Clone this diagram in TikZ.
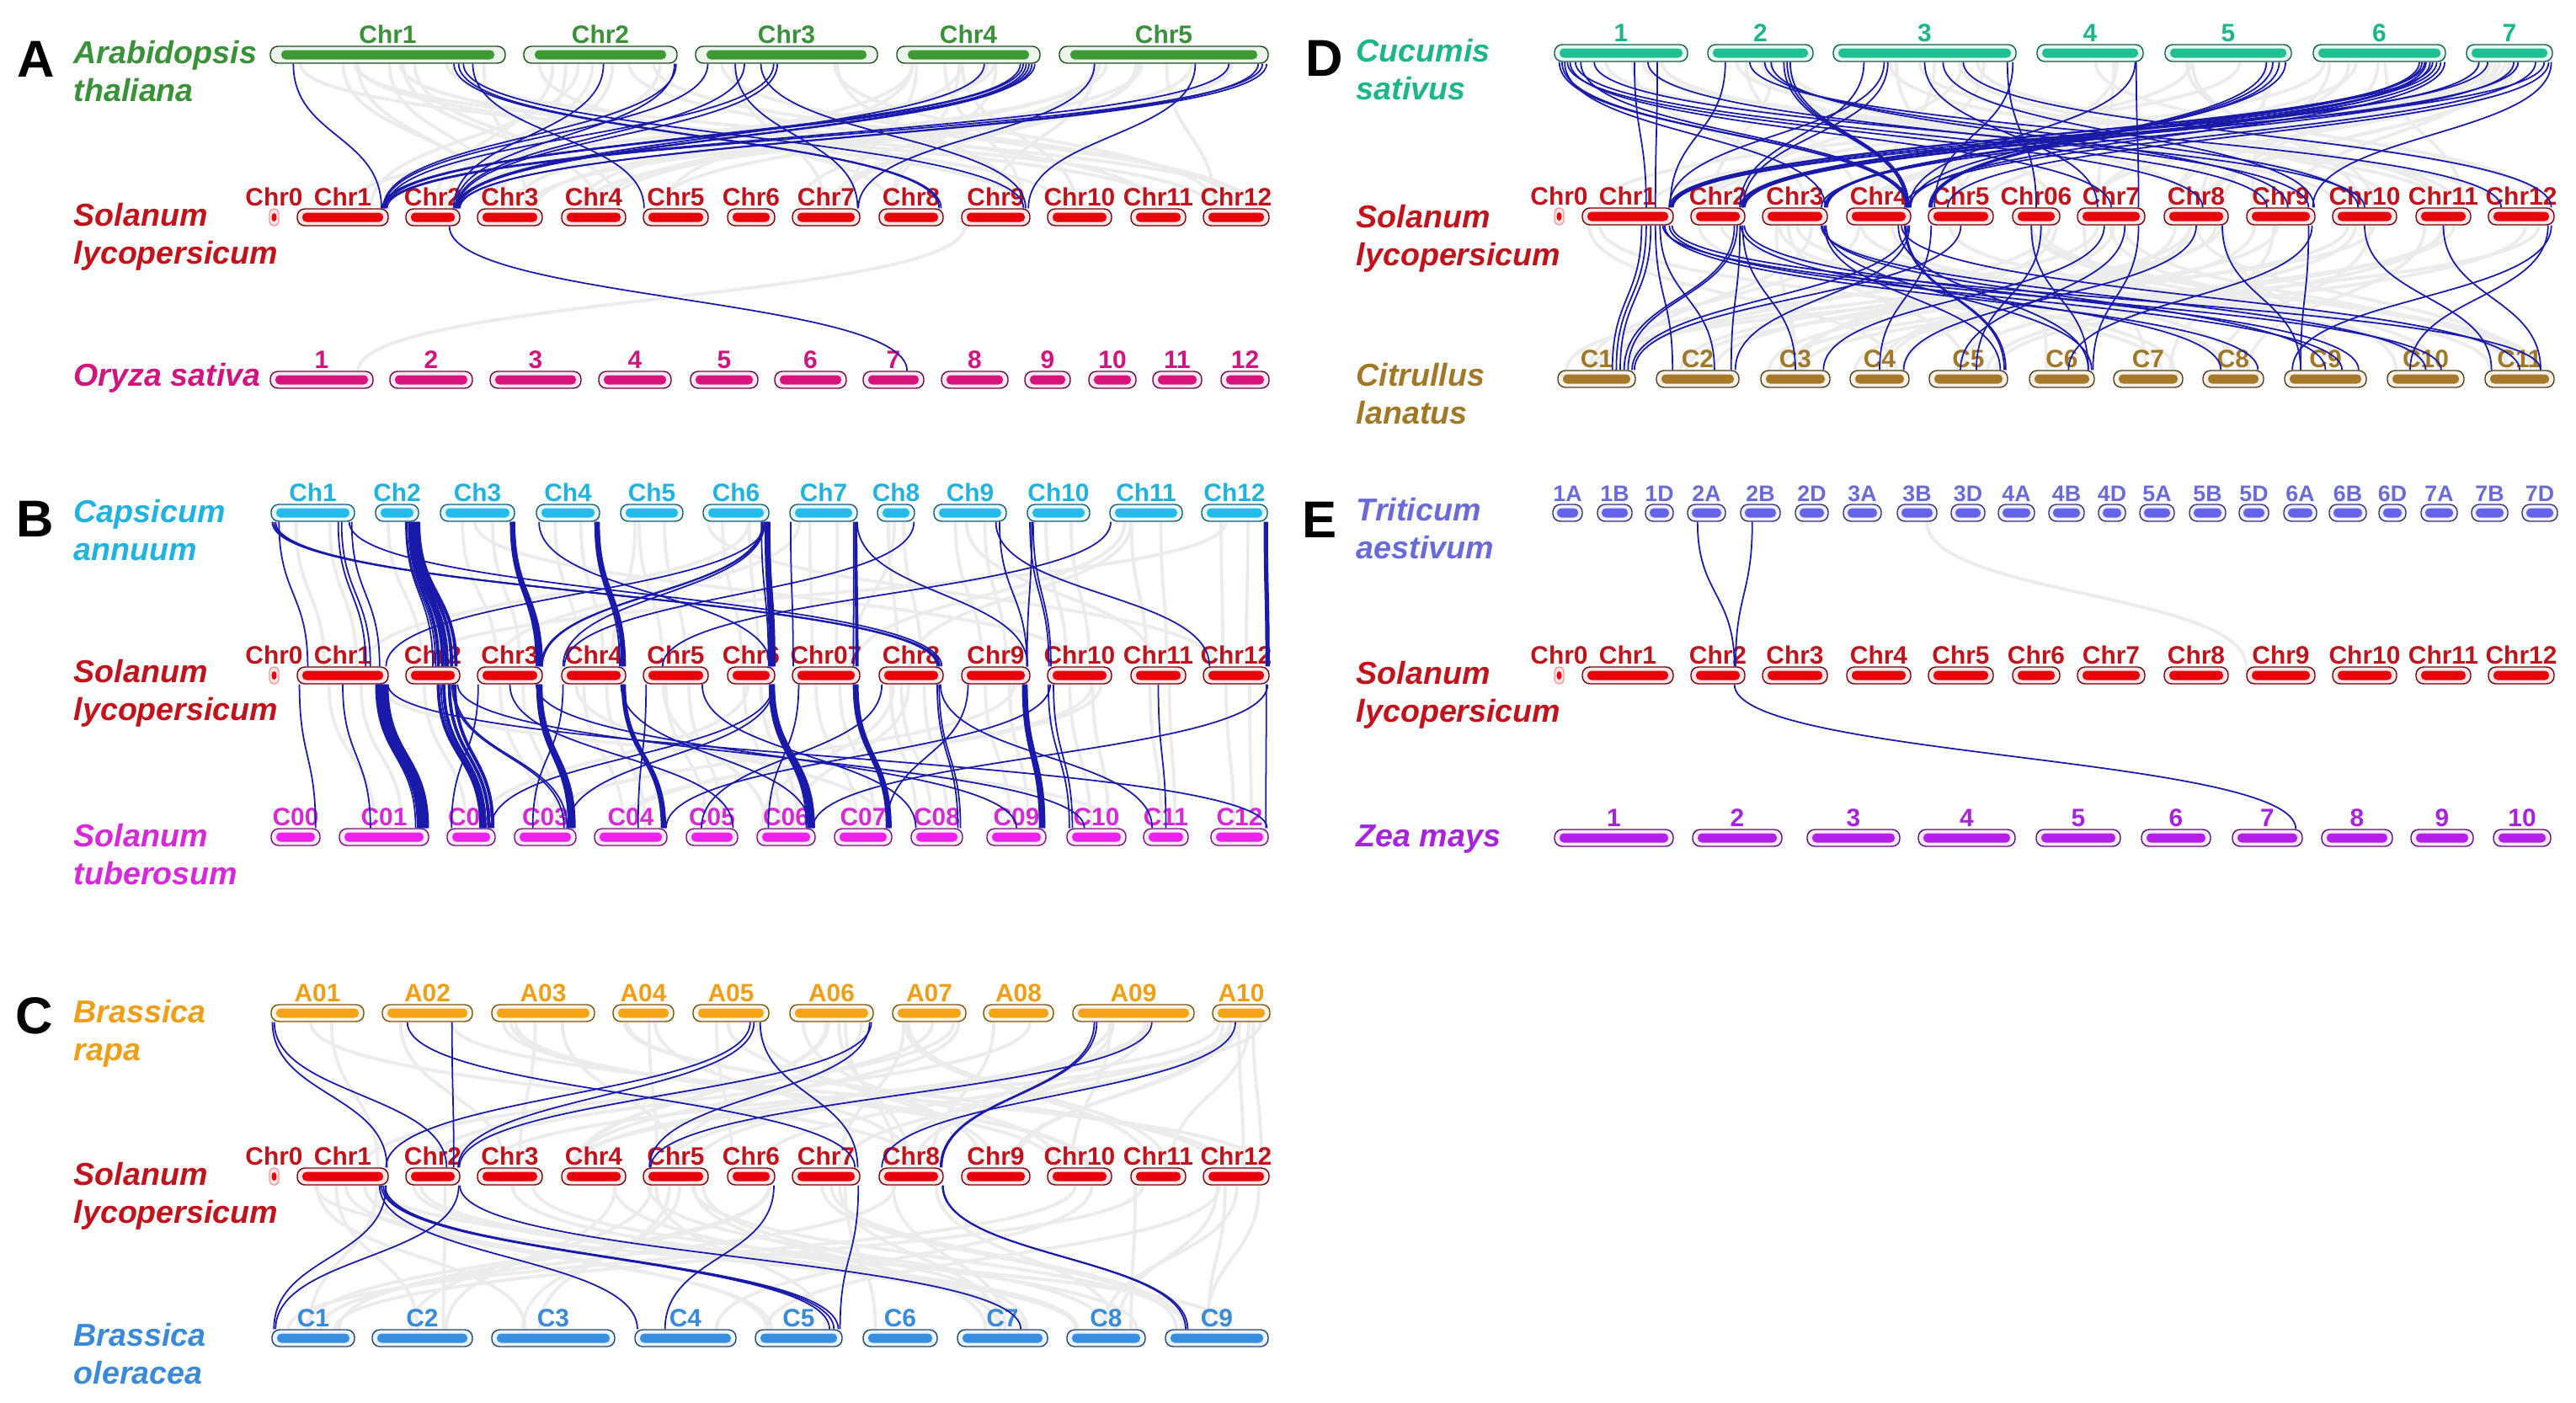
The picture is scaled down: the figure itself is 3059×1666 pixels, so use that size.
\documentclass[tikz,border=0pt]{standalone}
\usepackage{fontspec}
\setmainfont{Liberation Sans}
\usetikzlibrary{calc,fit}
\pgfdeclarelayer{bg}
\pgfsetlayers{bg,main}
\definecolor{athg}{HTML}{3D9A35}\definecolor{athgt}{HTML}{3A913A}
\definecolor{slyred}{HTML}{E8000B}\definecolor{slyredt}{HTML}{C0141C}
\definecolor{osap}{HTML}{D8137E}\definecolor{osapt}{HTML}{D0157F}
\definecolor{canc}{HTML}{22BBEA}\definecolor{canct}{HTML}{22B2E0}
\definecolor{stum}{HTML}{EE22EE}\definecolor{stumt}{HTML}{D62AD6}
\definecolor{brao}{HTML}{F2A516}\definecolor{braot}{HTML}{EE9F1A}
\definecolor{bolb}{HTML}{3A8EE0}\definecolor{bolbt}{HTML}{3A8AD8}
\definecolor{cuct}{HTML}{1FBF92}\definecolor{cuctt}{HTML}{1EB58A}
\definecolor{clab}{HTML}{A6792A}\definecolor{clabt}{HTML}{A07828}
\definecolor{taes}{HTML}{6464E8}\definecolor{taest}{HTML}{6A6AD8}
\definecolor{zeap}{HTML}{B420EA}\definecolor{zeapt}{HTML}{A624DA}
\definecolor{linkblue}{HTML}{1A1AAA}
\definecolor{linkgray}{HTML}{ECECEC}
\def\chfs{8.5}
\tikzset{
 chbox/.style={draw=#1!50!black, fill=#1!10, line width=0.4pt, rounded corners=0.09cm, inner sep=0pt},
 chlab/.style={text=#1, font=\fontsize{\chfs}{9}\selectfont\bfseries, inner sep=0pt, anchor=base},
 spname/.style={text=#1, font=\fontsize{10.7}{12}\selectfont\bfseries\itshape, inner sep=0pt, anchor=base west},
 panel/.style={font=\fontsize{17.5}{20}\selectfont\bfseries, inner sep=0pt},
 bl/.style={draw=linkblue, line width=0.5pt},
 blt/.style={draw=linkblue, line width=1.1pt},
 gl/.style={draw=linkgray, line width=1.1pt},
}
% chromosome: [inset] name colour x1 x2 y label
\newcommand\chrom[7][6]{%
 \node[chbox=#3, fit={(#4,#6-10) (#5,#6+10)}] (#2) {};
 \fill[#3, rounded corners=0.05cm] (#4+#1,#6-5.5) rectangle (#5-#1,#6+5.5);
 \node[chlab=#3t] (#2-lab) at ([yshift=0.03cm]#2.north) {#7};}
\newcommand\chrzero[3]{%
 \node[chbox=slyred, draw=slyred!40, rounded corners=0.05cm, fit={(#2-5.5,#3-10) (#2+5.5,#3+10)}] (#1) {};
 \fill[slyred] (#2,#3) ellipse [x radius=0.03cm, y radius=0.05cm];
 \node[chlab=slyredt] (#1-lab) at ([yshift=0.03cm]#1.north) {Chr0};}
\newcommand\crow[5]{\foreach \cn/\ca/\cb/\cl in {#5} {\chrom[#4]{#1\cn}{#2}{\ca}{\cb}{#3}{\cl}}}
\newcommand\slyrow[5]{%
 \chrzero{#10}{325.5+#2}{#3}
 \foreach \cn/\ca/\cb/\cl in {1/353/461/Chr1,2/482/546/Chr2,3/567/644/Chr3,4/667/743/Chr4,5/764/841/Chr5,6/864/920/#4,7/941/1021/#5,8/1044/1120/Chr8,9/1142/1223/Chr9,10/1244/1320/Chr10,11/1343/1408/Chr11,12/1429/1507/Chr12}
  {\chrom{#1\cn}{slyred}{\ca+#2}{\cb+#2}{#3}{\cl}}}
\newcommand\spn[6]{%
 \node[spname=#4t] (#1a) at (#2,#3) {#5};
 \node[spname=#4t] (#1b) at (#2,#3+45) {#6};}
\newcommand\lk[5][bl]{\draw[#1] ($(#2.south west)!#3!(#2.south east)$) .. controls +(0,87) and +(0,-87) .. ($(#4.north west)!#5!(#4.north east)$);}
\newcommand\links[2][bl]{\foreach \ta/\tf/\tb/\tg in {#2}{\lk[#1]{\ta}{\tf}{\tb}{\tg}}}
\newcommand\grays[5]{%
 \foreach \k in {1,...,#5}{%
  \pgfmathrandominteger{\ti}{1}{#2}%
  \pgfmathrandominteger{\bi}{1}{#4}%
  \pgfmathsetmacro{\tfr}{0.08+0.84*rnd}%
  \pgfmathsetmacro{\bfr}{0.08+0.84*rnd}%
  \lk[gl]{#1\ti}{\tfr}{#3\bi}{\bfr}}}
\begin{document}
\begin{tikzpicture}[x=0.01cm,y=-0.01cm]
\begin{pgfonlayer}{bg}
\fill[white] (0,0) rectangle (3059,1666);
\end{pgfonlayer}
% panel letters
\node[panel] (pA) at (43,70) {A};
\node[panel] (pB) at (42,616) {B};
\node[panel] (pC) at (41,1206) {C};
\node[panel] (pD) at (1573,69) {D};
\node[panel] (pE) at (1567,617) {E};
% species names
\spn{nAth}{87}{75}{athg}{Arabidopsis}{thaliana}
\spn{nSlA}{87}{268}{slyred}{Solanum}{lycopersicum}
\node[spname=osapt] (nOsa) at (87,458) {Oryza sativa};
\spn{nCan}{87}{620}{canc}{Capsicum}{annuum}
\spn{nSlB}{87}{810}{slyred}{Solanum}{lycopersicum}
\spn{nStu}{87}{1005}{stum}{Solanum}{tuberosum}
\spn{nBra}{87}{1214}{brao}{Brassica}{rapa}
\spn{nSlC}{87}{1407}{slyred}{Solanum}{lycopersicum}
\spn{nBol}{87}{1598}{bolb}{Brassica}{oleracea}
\spn{nCuc}{1610}{73}{cuct}{Cucumis}{sativus}
\spn{nSlD}{1610}{270}{slyred}{Solanum}{lycopersicum}
\spn{nCla}{1610}{458}{clab}{Citrullus}{lanatus}
\spn{nTae}{1610}{618}{taes}{Triticum}{aestivum}
\spn{nSlE}{1610}{812}{slyred}{Solanum}{lycopersicum}
\node[spname=zeapt] (nZea) at (1610,1005) {Zea mays};
% ---- chromosomes ----
\crow{ath}{athg}{65}{13}{1/321/600/Chr1,2/622/804/Chr2,3/826/1042/Chr3,4/1065/1235/Chr4,5/1258/1506/Chr5}
\slyrow{asl}{0}{258}{Chr6}{Chr7}
\crow{osa}{osap}{451}{6}{1/321/443/1,2/463/561/2,3/582/690/3,4/711/797/4,5/820/900/5,6/920/1005/6,7/1025/1097/7,8/1118/1197/8,9/1217/1271/9,10/1293/1349/10,11/1369/1427/11,12/1450/1507/12}
\crow{can}{canc}{609}{6}{1/322/421/Ch1,2/446/497/Ch2,3/523/611/Ch3,4/637/712/Ch4,5/737/811/Ch5,6/835/913/Ch6,7/938/1018/Ch7,8/1042/1086/Ch8,9/1109/1195/Ch9,10/1220/1294/Ch10,11/1318/1404/Ch11,12/1427/1505/Ch12}
\slyrow{bsl}{0}{802}{Chr6}{Chr07}
\crow{stu}{stum}{994}{6}{0/322/380/C00,1/403/509/C01,2/531/588/C02,3/611/684/C03,4/706/792/C04,5/815/876/C05,6/899/968/C06,7/991/1059/C07,8/1082/1143/C08,9/1172/1242/C09,10/1267/1337/C10,11/1358/1411/C11,12/1438/1506/C12}
\crow{bra}{brao}{1203}{6}{1/322/432/A01,2/454/561/A02,3/584/706/A03,4/728/800/A04,5/823/913/A05,6/938/1037/A06,7/1060/1147/A07,8/1168/1251/A08,9/1274/1418/A09,10/1440/1508/A10}
\slyrow{csl}{0}{1397}{Chr6}{Chr7}
\crow{bol}{bolb}{1589}{6}{1/323/421/C1,2/442/561/C2,3/584/730/C3,4/754/874/C4,5/897/1000/C5,6/1025/1113/C6,7/1137/1244/C7,8/1267/1360/C8,9/1384/1506/C9}
\crow{cuc}{cuct}{63}{6}{1/1846/2004/1,2/2028/2153/2,3/2177/2394/3,4/2419/2545/4,5/2571/2721/5,6/2747/2904/6,7/2929/3031/7}
\slyrow{dsl}{1526}{257}{Chr06}{Chr7}
\crow{cla}{clab}{450}{6}{1/1850/1942/C1,2/1967/2065/C2,3/2091/2173/C3,4/2197/2267/C4,5/2291/2384/C5,6/2410/2487/C6,7/2510/2592/C7,8/2616/2688/C8,9/2713/2810/C9,10/2835/2926/C10,11/2951/3033/C11}
\def\chfs{7.6}
\crow{tae}{taes}{609}{5}{1/1844/1879/1A,2/1897/1938/1B,3/1954/1987/1D,4/2004/2049/2A,5/2067/2114/2B,6/2132/2171/2D,7/2189/2234/3A,8/2253/2300/3B,9/2317/2357/3D,10/2373/2416/4A,11/2433/2475/4B,12/2492/2524/4D,13/2541/2582/5A,14/2600/2643/5B,15/2659/2694/5D,16/2712/2751/6A,17/2766/2810/6B,18/2825/2857/6D,19/2875/2918/7A,20/2935/2978/7B,21/2995/3037/7D}
\def\chfs{8.5}
\slyrow{esl}{1526}{802}{Chr6}{Chr7}
\crow{zea}{zeap}{995}{6}{1/1846/1987/1,2/2010/2116/2,3/2146/2256/3,4/2278/2393/4,5/2418/2518/5,6/2543/2625/6,7/2651/2734/7,8/2757/2841/8,9/2863/2937/9,10/2961/3029/10}
% ---- grey background links ----
\begin{pgfonlayer}{bg}
\pgfmathsetseed{7}
\grays{ath}{5}{asl}{12}{45}
\lk[gl]{asl9}{0.05}{osa1}{0.85}
\foreach \i in {1,...,12}{\lk[gl]{can\i}{0.3}{bsl\i}{0.3}\lk[gl]{can\i}{0.7}{bsl\i}{0.65}\lk[gl]{bsl\i}{0.35}{stu\i}{0.4}\lk[gl]{bsl\i}{0.7}{stu\i}{0.7}}
\grays{can}{12}{bsl}{12}{10}
\grays{bsl}{12}{stu}{12}{10}
\grays{bra}{10}{csl}{12}{45}
\grays{csl}{12}{bol}{9}{40}
\grays{cuc}{7}{dsl}{12}{45}
\grays{dsl}{12}{cla}{11}{45}
\lk[gl]{tae8}{0.74}{esl9}{0.0}
\end{pgfonlayer}
% ---- panel A ----
\links{ath1/0.10/asl1/0.92,ath1/0.78/asl8/0.93,ath1/0.80/asl8/0.96,ath1/0.82/asl9/0.9,ath1/0.86/asl5/0.02,
ath2/0.52/asl2/0.88,ath2/0.99/asl1/0.94,ath2/0.98/asl2/0.91,
ath3/0.07/asl1/0.95,ath3/0.22/asl7/0.96,ath3/0.27/asl2/0.93,ath3/0.36/asl9/0.93,ath3/0.43/asl1/0.97,ath3/0.45/asl2/0.95,
ath4/0.61/asl2/0.96,ath4/0.86/asl1/0.93,ath4/0.88/asl1/0.95,ath4/0.90/asl2/0.92,ath4/0.92/asl2/0.94,ath4/0.94/asl2/0.97,ath4/0.96/asl1/0.96,
ath5/0.17/asl7/0.97,ath5/0.65/asl9/0.97,ath5/0.81/asl1/0.96,ath5/0.95/asl2/0.98,ath5/0.97/asl1/0.98,ath5/0.99/asl2/0.99,
asl2/0.8/osa7/0.72}
% ---- panel B ----
\links[blt]{can2/0.78/bsl2/0.6,can2/0.84/bsl2/0.68,can2/0.9/bsl2/0.76,can2/0.95/bsl2/0.84,can2/0.99/bsl2/0.92,
can3/0.96/bsl3/0.93,can3/0.98/bsl3/0.96,can4/0.95/bsl4/0.94,can4/0.97/bsl4/0.97,
can6/0.95/bsl6/0.9,can6/0.97/bsl6/0.94,can6/0.99/bsl6/0.97,can7/0.97/bsl7/0.95,can12/0.96/bsl12/0.96,
bsl1/0.88/stu1/0.88,bsl1/0.9/stu1/0.9,bsl1/0.92/stu1/0.92,bsl1/0.94/stu1/0.94,bsl1/0.96/stu1/0.96,bsl1/0.98/stu1/0.98,
bsl2/0.6/stu2/0.7,bsl2/0.7/stu2/0.78,bsl2/0.8/stu2/0.86,bsl2/0.9/stu2/0.94,
bsl3/0.93/stu3/0.9,bsl3/0.95/stu3/0.93,bsl3/0.97/stu3/0.96,bsl4/0.95/stu4/0.93,bsl4/0.97/stu4/0.96,
bsl6/0.9/stu6/0.88,bsl6/0.93/stu6/0.92,bsl6/0.96/stu6/0.96,bsl7/0.92/stu7/0.93,bsl7/0.95/stu7/0.96,bsl9/0.9/stu9/0.9,bsl9/0.93/stu9/0.95}
\links{can1/0.02/bsl8/0.90,can1/0.04/bsl8/0.92,can1/0.06/bsl8/0.94,can1/0.80/bsl1/0.75,can1/0.84/bsl1/0.8,can1/0.93/bsl8/0.97,can1/0.96/bsl1/0.9,can1/0.1/bsl1/0.12,
can3/0.99/bsl3/0.99,can4/0.05/bsl6/0.9,can6/0.9/bsl3/0.97,can6/0.92/bsl3/0.99,can6/0.94/bsl1/0.97,can6/0.93/bsl4/0.03,
can7/0.02/bsl7/0.02,can7/0.99/bsl9/0.96,can8/0.97/bsl4/0.05,can9/0.85/bsl12/0.1,can10/0.05/bsl10/0.03,can10/0.1/bsl10/0.06,can11/0.02/bsl5/0.3,can12/0.99/bsl12/0.99,can2/0.7/bsl2/0.5,can9/0.9/bsl9/0.95,
can2/0.72/bsl2/0.55,can2/0.88/bsl2/0.72,can3/0.94/bsl3/0.9,can4/0.92/bsl4/0.9,can6/0.88/bsl6/0.86,can7/0.94/bsl7/0.9,can10/0.08/bsl9/0.95,
bsl1/0.03/stu0/0.9,bsl1/0.5/stu1/0.35,bsl1/0.99/stu12/0.97,bsl2/0.95/stu10/0.3,bsl2/0.85/stu3/0.8,bsl2/0.88/stu3/0.85,bsl3/0.02/stu2/0.1,bsl3/0.9/stu9/0.5,bsl4/0.92/stu6/0.9,bsl4/0.03/stu3/0.3,bsl5/0.05/stu4/0.6,bsl6/0.95/stu2/0.9,bsl6/0.97/stu3/0.85,bsl7/0.1/stu6/0.2,bsl8/0.9/stu8/0.9,bsl8/0.05/stu5/0.3,bsl10/0.02/stu10/0.05,bsl10/0.05/stu4/0.98,bsl12/0.95/stu12/0.95,bsl12/0.97/stu6/0.95,bsl11/0.5/stu11/0.5,bsl9/0.1/stu7/0.9,bsl5/0.9/stu8/0.1,bsl3/0.5/stu5/0.9,bsl8/0.95/stu11/0.2,
bsl1/0.86/stu1/0.85,bsl2/0.65/stu2/0.74,bsl3/0.91/stu3/0.87,bsl6/0.88/stu6/0.84,bsl7/0.9/stu7/0.9,bsl9/0.95/stu9/0.97,bsl8/0.93/stu8/0.95,bsl10/0.1/stu10/0.1}
% ---- panel C ----
\links{bra1/0.02/csl1/0.98,bra1/0.04/csl2/0.75,bra2/0.28/csl7/0.92,bra2/0.77/csl2/0.88,bra5/0.75/csl1/0.97,bra5/0.8/csl2/0.96,bra5/0.88/csl7/0.96,bra6/0.97/csl2/0.98,bra6/0.95/csl5/0.1,bra9/0.18/csl8/0.95,bra9/0.2/csl8/0.97,bra9/0.65/csl5/0.12,bra10/0.4/csl8/0.05,
csl1/0.92/bol5/0.85,csl1/0.94/bol5/0.9,csl1/0.96/bol5/0.95,csl1/0.9/bol4/0.03,csl1/0.97/bol1/0.03,csl2/0.97/bol1/0.05,csl2/0.99/bol7/0.7,csl6/0.97/bol4/0.3,csl7/0.97/bol5/0.97,csl8/0.98/bol9/0.2,csl8/0.99/bol9/0.22}
% ---- panel D ----
\links{cuc1/0.04/dsl4/0.93,cuc1/0.06/dsl4/0.95,cuc1/0.08/dsl3/0.96,cuc1/0.12/dsl7/0.5,cuc1/0.16/dsl9/0.3,cuc1/0.2/dsl4/0.97,cuc1/0.6/dsl1/0.7,cuc1/0.77/dsl1/0.8,cuc1/0.7/dsl9/0.9,
cuc2/0.17/dsl1/0.96,cuc2/0.54/dsl10/0.4,cuc2/0.72/dsl4/0.92,cuc2/0.75/dsl4/0.94,cuc2/0.78/dsl4/0.96,cuc2/0.4/dsl12/0.2,
cuc3/0.17/dsl2/0.9,cuc3/0.28/dsl1/0.95,cuc3/0.3/dsl2/0.96,cuc3/0.71/dsl12/0.95,cuc3/0.6/dsl9/0.98,cuc3/0.98/dsl5/0.1,cuc3/0.95/dsl6/0.5,
cuc4/0.92/dsl4/0.97,cuc4/0.93/dsl7/0.9,cuc5/0.8/dsl5/0.02,cuc5/0.85/dsl5/0.04,cuc5/0.9/dsl5/0.06,cuc5/0.95/dsl4/0.99,
cuc6/0.8/dsl2/0.9,cuc6/0.82/dsl2/0.93,cuc6/0.85/dsl3/0.95,cuc6/0.88/dsl3/0.97,cuc6/0.9/dsl1/0.97,cuc6/0.93/dsl2/0.97,cuc6/0.96/dsl3/0.99,cuc6/0.99/dsl4/0.97,
cuc7/0.15/dsl2/0.99,cuc7/0.25/dsl1/0.98,cuc7/0.55/dsl3/0.9,cuc7/0.8/dsl4/0.9,cuc7/0.9/dsl1/0.99,cuc7/0.95/dsl5/0.3,cuc7/0.98/dsl9/0.96,
cuc1/0.1/dsl8/0.6,cuc2/0.6/dsl9/0.6,cuc3/0.5/dsl7/0.3,cuc1/0.3/dsl10/0.5,cuc7/0.6/dsl2/0.95,cuc6/0.84/dsl1/0.95,
dsl1/0.65/cla1/0.7,dsl1/0.7/cla1/0.75,dsl1/0.75/cla1/0.8,dsl1/0.8/cla2/0.2,dsl1/0.85/cla2/0.7,dsl1/0.9/cla8/0.9,dsl1/0.95/cla9/0.7,
dsl2/0.8/cla1/0.85,dsl2/0.85/cla1/0.9,dsl2/0.9/cla2/0.9,dsl2/0.95/cla3/0.5,dsl2/0.98/cla9/0.9,
dsl3/0.95/cla5/0.9,dsl3/0.97/cla6/0.95,dsl3/0.9/cla10/0.5,dsl4/0.9/cla5/0.95,dsl4/0.92/cla5/0.97,dsl4/0.95/cla1/0.95,dsl4/0.97/cla2/0.95,dsl4/0.8/cla6/0.9,
dsl5/0.05/cla4/0.5,dsl6/0.4/cla6/0.9,dsl6/0.6/cla5/0.6,dsl7/0.9/cla6/0.97,dsl7/0.7/cla5/0.4,dsl7/0.4/cla3/0.9,dsl8/0.9/cla9/0.2,dsl8/0.5/cla4/0.9,
dsl9/0.9/cla9/0.2,dsl9/0.95/cla6/0.6,dsl10/0.5/cla11/0.1,dsl12/0.9/cla10/0.3,dsl12/0.95/cla9/0.1,dsl11/0.5/cla11/0.8,dsl1/0.98/cla11/0.8,
dsl1/0.88/cla10/0.7,dsl2/0.92/cla8/0.3,dsl3/0.92/cla9/0.5,dsl4/0.85/cla11/0.5,dsl5/0.5/cla1/0.98}
% ---- panel E ----
\links{tae4/0.27/esl2/0.8,tae5/0.3/esl2/0.82,esl2/0.8/zea7/0.9}
\end{tikzpicture}
\end{document}
